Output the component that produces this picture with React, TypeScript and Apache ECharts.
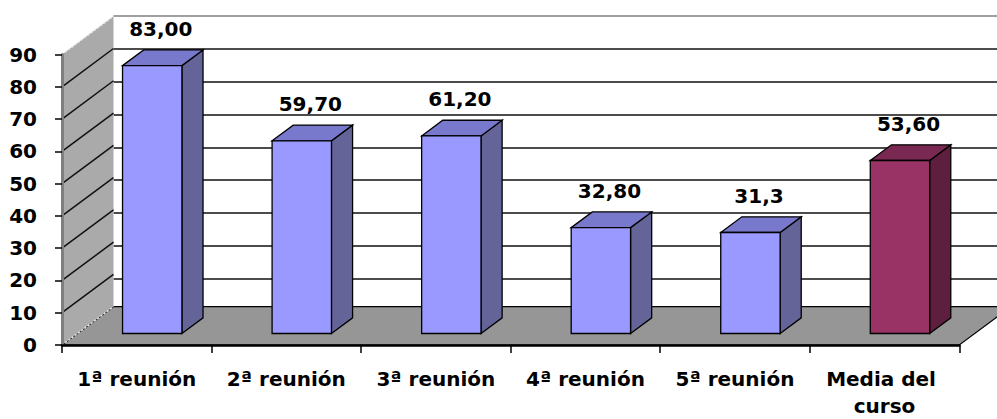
import React, { useEffect, useRef } from "react";
import * as echarts from "echarts";

const categories = ["1ª reunión", "2ª reunión", "3ª reunión", "4ª reunión", "5ª reunión", "Media del curso"];
const values = [83.0, 59.7, 61.2, 32.8, 31.3, 53.6];
const valueLabels = ["83,00", "59,70", "61,20", "32,80", "31,3", "53,60"];
const barKinds = ["meeting", "meeting", "meeting", "meeting", "meeting", "average"];
const yTicks = [0, 10, 20, 30, 40, 50, 60, 70, 80, 90];

const palettes: Record<string, { front: string; top: string; side: string }> = {
  meeting: { front: "#9999ff", top: "#7878cc", side: "#646499" },
  average: { front: "#993366", top: "#7a2952", side: "#5e1f3f" },
};

// 3D projection constants (pixel offset of the back plane relative to the front plane)
const DEPTH_DX = 51.5;
const DEPTH_DY = -38.3;
const BAR_FRONT = 0.3;
const BAR_DEPTH = 0.41;
const BAR_WIDTH = 0.397;
const LABEL_DX = 24;
const LABEL_GAP = 21;

const FONT = '"DejaVu Sans", "Liberation Sans", Arial, sans-serif';

const FRONT = { left: 62, top: 54.5, width: 897.3, height: 295 };

export default function App() {
  const ref = useRef<HTMLDivElement>(null);
  useEffect(() => {
    if (!ref.current) return;
    const chart = echarts.init(ref.current, null, { renderer: "svg" });

    const splitColors = yTicks.map((t, i) => (i === yTicks.length - 1 ? "#808080" : "#111111"));

    const option: any = {
      animation: false,
      backgroundColor: "#ffffff",
      grid: [
        { left: FRONT.left, top: FRONT.top, width: FRONT.width, height: FRONT.height },
        {
          left: FRONT.left + DEPTH_DX,
          top: FRONT.top + DEPTH_DY,
          width: FRONT.width,
          height: FRONT.height,
        },
      ],
      xAxis: [
        {
          type: "category",
          gridIndex: 0,
          data: categories,
          z: 10,
          axisLine: { show: true, lineStyle: { color: "#000", width: 2.5 } },
          axisTick: { show: true, length: 8, lineStyle: { color: "#000", width: 1.5 } },
          axisLabel: {
            color: "#000",
            fontFamily: FONT,
            fontWeight: "bold",
            fontSize: 20,
            margin: 20,
            lineHeight: 27,
            width: 145,
            overflow: "break",
            interval: 0,
          },
        },
        { type: "category", gridIndex: 1, data: categories, show: false },
      ],
      yAxis: [
        {
          type: "value",
          gridIndex: 0,
          min: 0,
          max: 90,
          interval: 10,
          z: 10,
          splitLine: { show: false },
          axisLine: { show: true, lineStyle: { color: "#7f7f7f", width: 3 } },
          axisTick: { show: true, length: 7, lineStyle: { color: "#000", width: 1.5 } },
          axisLabel: {
            color: "#000",
            fontFamily: FONT,
            fontWeight: "bold",
            fontSize: 20,
            margin: 25,
          },
        },
        {
          type: "value",
          gridIndex: 1,
          min: 0,
          max: 90,
          interval: 10,
          axisLine: { show: false },
          axisTick: { show: false },
          axisLabel: { show: false },
          splitLine: { show: true, lineStyle: { color: splitColors, width: 1.6 } },
        },
      ],
      series: [
        {
          type: "custom",
          name: "walls",
          xAxisIndex: 0,
          yAxisIndex: 0,
          z: 1,
          silent: true,
          data: [[0, 0]],
          renderItem: (params: any, api: any) => {
            const cs = params.coordSys;
            const x0 = cs.x;
            const x1 = cs.x + cs.width;
            const y0 = api.coord([0, 0])[1];
            const yTop = api.coord([0, 90])[1];
            const children: any[] = [];
            children.push({
              type: "polygon",
              shape: {
                points: [
                  [x0, y0],
                  [x1, y0],
                  [x1 + DEPTH_DX, y0 + DEPTH_DY],
                  [x0 + DEPTH_DX, y0 + DEPTH_DY],
                ],
              },
              style: { fill: "#969696", stroke: "#000", lineWidth: 1.2 },
            });
            children.push({
              type: "polygon",
              shape: {
                points: [
                  [x0, y0],
                  [x0, yTop],
                  [x0 + DEPTH_DX, yTop + DEPTH_DY],
                  [x0 + DEPTH_DX, y0 + DEPTH_DY],
                ],
              },
              style: { fill: "#aaaaaa" },
            });
            yTicks.forEach((t, idx) => {
              const y = api.coord([0, t])[1];
              const edge = idx === 0 || idx === yTicks.length - 1;
              children.push({
                type: "line",
                shape: { x1: x0, y1: y, x2: x0 + DEPTH_DX, y2: y + DEPTH_DY },
                style: edge
                  ? { stroke: "#e6e6e6", lineWidth: 1.5, lineDash: [2, 2] }
                  : { stroke: "#111", lineWidth: 1.5 },
              });
            });
            return { type: "group", children };
          },
        },
        {
          type: "custom",
          name: "bars",
          xAxisIndex: 0,
          yAxisIndex: 0,
          z: 3,
          data: values.map((v, i) => [i, v]),
          encode: { x: 0, y: 1 },
          renderItem: (params: any, api: any) => {
            const i = api.value(0);
            const v = api.value(1);
            const base = api.coord([i, 0]);
            const top = api.coord([i, v]);
            const band = api.size([1, 0])[0];
            const w = band * BAR_WIDTH;
            const ox = BAR_FRONT * DEPTH_DX;
            const oy = BAR_FRONT * DEPTH_DY;
            const bx = BAR_DEPTH * DEPTH_DX;
            const by = BAR_DEPTH * DEPTH_DY;
            const xl = base[0] - w / 2 + ox;
            const xr = xl + w;
            const yt = top[1] + oy;
            const yb = base[1] + oy;
            const pal = palettes[barKinds[i]];
            const stroke = { stroke: "#000", lineWidth: 1.3 };
            return {
              type: "group",
              children: [
                {
                  type: "polygon",
                  shape: { points: [[xr, yt], [xr + bx, yt + by], [xr + bx, yb + by], [xr, yb]] },
                  style: { fill: pal.side, ...stroke },
                },
                {
                  type: "polygon",
                  shape: { points: [[xl, yt], [xl + bx, yt + by], [xr + bx, yt + by], [xr, yt]] },
                  style: { fill: pal.top, ...stroke },
                },
                {
                  type: "rect",
                  shape: { x: xl, y: yt, width: w, height: yb - yt },
                  style: { fill: pal.front, ...stroke },
                },
                {
                  type: "text",
                  x: base[0] + LABEL_DX,
                  y: yt + by - LABEL_GAP,
                  style: {
                    text: valueLabels[i],
                    fill: "#000",
                    font: `bold 20px ${FONT}`,
                    align: "center",
                    verticalAlign: "middle",
                  },
                },
              ],
            };
          },
        },
      ],
    };

    chart.setOption(option);
    return () => chart.dispose();
  }, []);

  return (
    <div
      ref={ref}
      style={{ position: "fixed", left: 0, top: 0, width: 997, height: 419, background: "#fff" }}
    />
  );
}
